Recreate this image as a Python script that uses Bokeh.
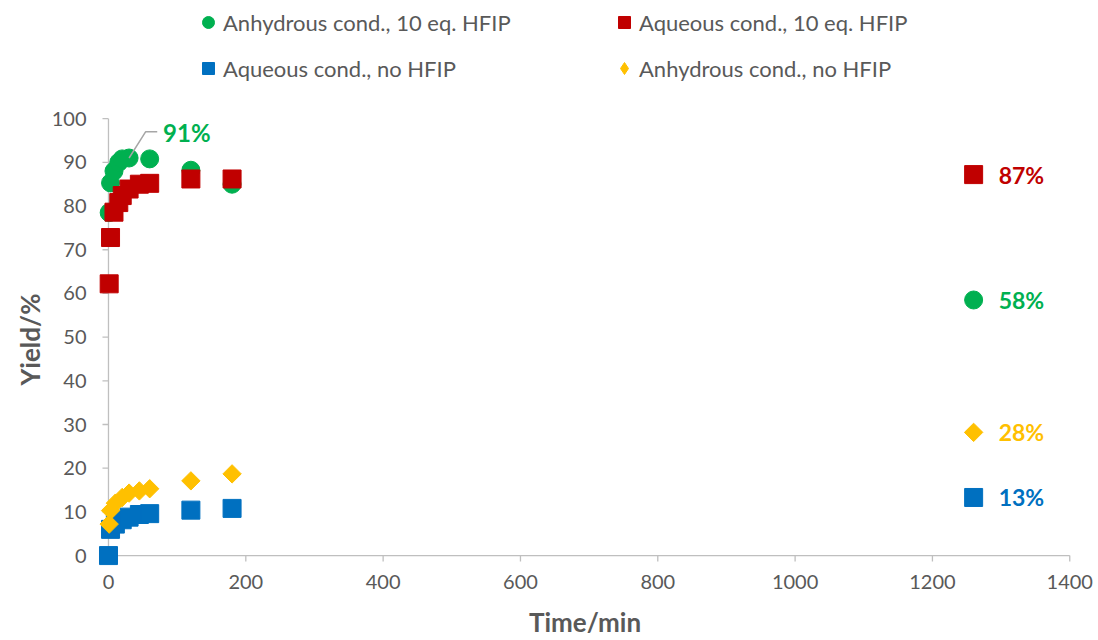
import math
from bokeh.plotting import figure
from bokeh.models import Range1d, Legend, LegendItem, FixedTicker, Title
from bokeh.core.properties import value
from bokeh.embed import file_html
from bokeh.resources import INLINE

# ---------------- data ----------------
green_name = "Anhydrous cond., 10 eq. HFIP"
green_t = [1, 3, 8, 15, 20, 30, 60, 120, 180, 1260]
green_y = [78.5, 85.3, 88.0, 90.0, 90.8, 91.0, 90.8, 88.2, 85.0, 58.5]

red_name = "Aqueous cond., 10 eq. HFIP"
red_t = [1, 3, 8, 15, 20, 30, 45, 60, 120, 180, 1260]
red_y = [62.2, 72.8, 78.6, 80.8, 82.4, 83.9, 85.0, 85.2, 86.2, 86.2, 87.2]

blue_name = "Aqueous cond., no HFIP"
blue_t = [0, 3, 10, 20, 30, 45, 60, 120, 180, 1260]
blue_y = [0.0, 6.0, 7.2, 8.2, 8.8, 9.4, 9.6, 10.4, 10.8, 13.3]

yellow_name = "Anhydrous cond., no HFIP"
yellow_t = [1, 3, 10, 20, 30, 45, 60, 120, 180, 1260]
yellow_y = [7.2, 10.3, 12.0, 13.3, 14.3, 14.8, 15.3, 17.1, 18.7, 28.2]

x_ticks = [0, 200, 400, 600, 800, 1000, 1200, 1400]
y_ticks = [0, 10, 20, 30, 40, 50, 60, 70, 80, 90, 100]

# ---------------- style ----------------
FONT = "Lato"
GREEN, RED, BLUE, YELLOW = "#00B050", "#C00000", "#0070C0", "#FFC000"
TXT = "#595959"
AXC = "#BFBFBF"

W, H = 1098, 640
BL, BR, BT, BB = 97, 26, 0, 74
XR = (-16, 1404)
YR = (-2.5, 127.05)
px_x = (W - BL - BR) / (XR[1] - XR[0])   # pixels per data unit
px_y = (H - BT - BB) / (YR[1] - YR[0])
TICK = 6

p = figure(width=W, height=H,
           x_range=Range1d(*XR), y_range=Range1d(*YR),
           output_backend="svg", toolbar_location=None,
           min_border_left=BL, min_border_right=BR,
           min_border_top=BT, min_border_bottom=BB)
p.xgrid.visible = False
p.ygrid.visible = False
p.outline_line_color = None
p.background_fill_color = "white"
p.border_fill_color = "white"

for ax in (p.xaxis[0], p.yaxis[0]):
    ax.axis_line_color = None
    ax.major_tick_line_color = None
    ax.minor_tick_line_color = None
    ax.major_tick_out = 0
    ax.major_tick_in = 0
    ax.major_label_text_font = FONT
    ax.major_label_text_font_size = "20px"
    ax.major_label_text_color = TXT
p.xaxis[0].ticker = FixedTicker(ticks=x_ticks)
p.yaxis[0].ticker = FixedTicker(ticks=y_ticks)
p.xaxis[0].major_label_standoff = 8
p.yaxis[0].major_label_standoff = 11
p.xaxis[0].axis_label = "Time/min"
p.xaxis[0].axis_label_text_font = FONT
p.xaxis[0].axis_label_text_font_size = "26px"
p.xaxis[0].axis_label_text_font_style = "bold"
p.xaxis[0].axis_label_text_color = TXT
p.xaxis[0].axis_label_text_line_height = 1.0
p.xaxis[0].axis_label_standoff = 14

p.add_layout(Title(text="Yield/%", align="left", offset=181, standoff=6,
                   text_font=FONT, text_font_size="26px", text_font_style="bold",
                   text_color=TXT), "left")

# axis lines and outward ticks drawn at the data origin
x0, y0 = x_ticks[0], y_ticks[0]
p.segment(x0=[x0], y0=[y0], x1=[x_ticks[-1]], y1=[y0], line_color=AXC, line_width=1.3)
p.segment(x0=[x0], y0=[y0], x1=[x0], y1=[y_ticks[-1]], line_color=AXC, line_width=1.3)
p.segment(x0=x_ticks, y0=[y0] * len(x_ticks), x1=x_ticks,
          y1=[y0 - TICK / px_y] * len(x_ticks), line_color=AXC, line_width=1.3)
p.segment(x0=[x0] * len(y_ticks), y0=y_ticks, x1=[x0 - TICK / px_x] * len(y_ticks),
          y1=y_ticks, line_color=AXC, line_width=1.3)

r_g = p.scatter(green_t, green_y, marker="circle", size=18,
                fill_color=GREEN, line_color=GREEN)
r_r = p.scatter(red_t, red_y, marker="square", size=18,
                fill_color=RED, line_color=RED)
r_b = p.scatter(blue_t, blue_y, marker="square", size=18,
                fill_color=BLUE, line_color=BLUE)
r_y = p.scatter(yellow_t, yellow_y, marker="square", size=13, angle=math.pi / 4,
                fill_color=YELLOW, line_color=YELLOW)
# legend-only glyph for the diamond series (a single undrawn NaN point)
r_y_leg = p.scatter(x=[float("nan")], y=[float("nan")], marker="diamond", size=13,
                    fill_color=YELLOW, line_color=YELLOW)

# leader line + label on the green maximum
gi = max(range(len(green_y)), key=lambda i: green_y[i])
gx, gy = green_t[gi], green_y[gi]
p.line([gx, gx + 24, gx + 41], [gy, gy + 6, gy + 6], line_color="#A6A6A6", line_width=1.5)
p.text(x=[gx], y=[gy], text=[f"{round(gy)}%"], x_offset=34, y_offset=-26,
       text_font=value(FONT), text_font_size="24px", text_font_style="bold",
       text_color=GREEN, text_baseline="middle", text_align="left")

# end-point labels
for ts, ys, col in ((green_t, green_y, GREEN), (red_t, red_y, RED),
                    (blue_t, blue_y, BLUE), (yellow_t, yellow_y, YELLOW)):
    p.text(x=[ts[-1]], y=[ys[-1]], text=[f"{round(ys[-1])}%"], x_offset=25,
           text_font=value(FONT), text_font_size="23px", text_font_style="bold",
           text_color=col, text_baseline="middle", text_align="left")

legend = Legend(items=[LegendItem(label=green_name, renderers=[r_g]),
                       LegendItem(label=red_name, renderers=[r_r]),
                       LegendItem(label=blue_name, renderers=[r_b]),
                       LegendItem(label=yellow_name, renderers=[r_y_leg])],
                orientation="horizontal", ncols=2,
                location=(96, 483),
                glyph_width=30, glyph_height=30, label_standoff=0,
                label_width=370, label_height=30, spacing=16, padding=0, margin=0,
                border_line_color=None, background_fill_alpha=0,
                label_text_font=FONT, label_text_font_size="22px", label_text_color=TXT)
p.add_layout(legend, "center")

open("out.html", "w").write(file_html(p, INLINE))
